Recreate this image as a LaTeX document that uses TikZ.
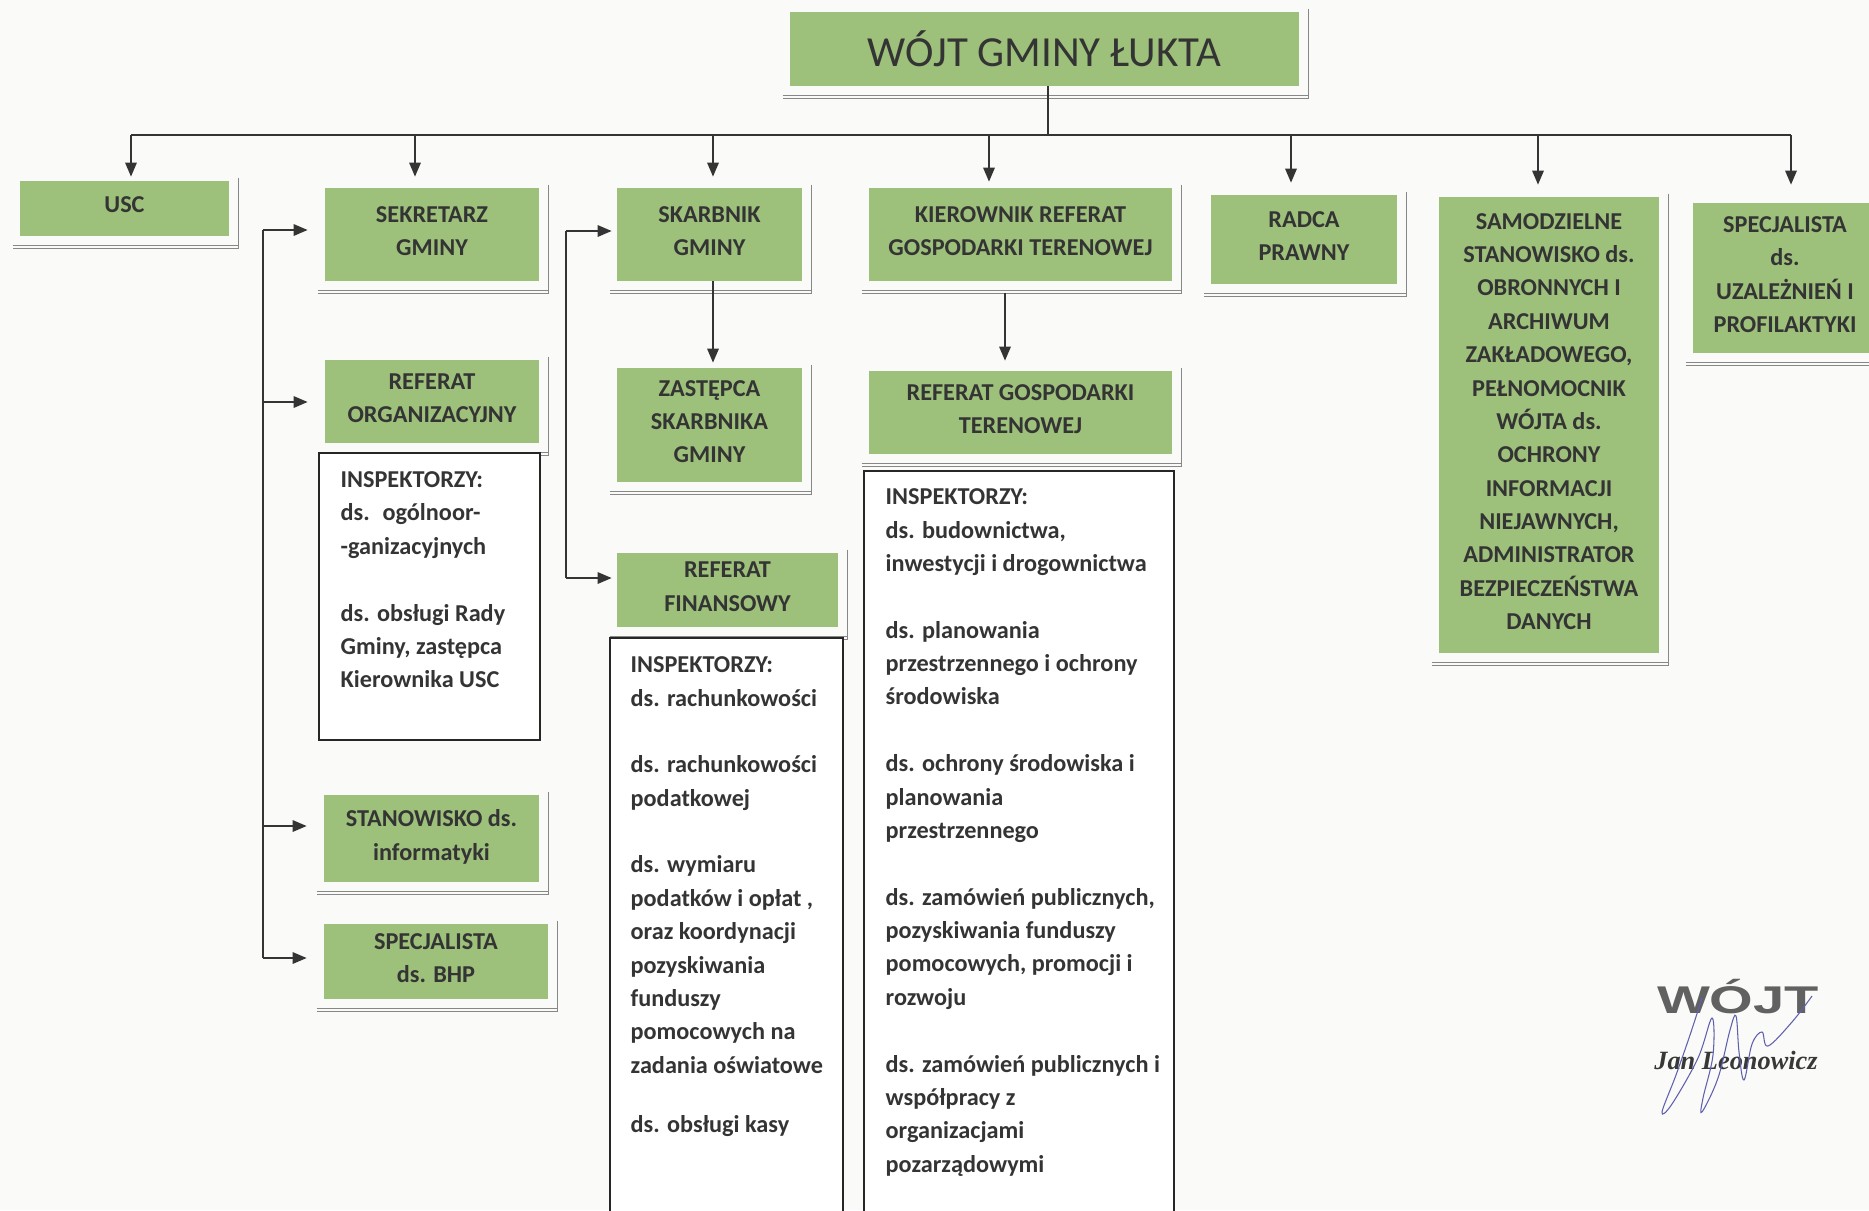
\documentclass[tikz,border=0pt]{standalone}
\usepackage{fontspec}
\setmainfont{Carlito}
\newfontfamily\stampsans{Liberation Sans}
\newfontfamily\stampserif{Liberation Serif}
\usetikzlibrary{positioning,arrows.meta}

\definecolor{boxgreen}{RGB}{157,192,122}
\definecolor{inkgray}{RGB}{52,52,52}
\definecolor{rimgray}{RGB}{135,135,135}
\definecolor{paper}{RGB}{250,250,248}
\definecolor{signblue}{RGB}{95,95,175}

\begin{document}
\begin{tikzpicture}[
  x=0.02cm, y=-0.02cm,
  box/.style={fill=boxgreen, draw=none, text=inkgray, align=center, inner sep=0pt,
              text depth=0.14cm, font=\fontsize{13.8}{19}\selectfont\bfseries},
  listbox/.style={draw=black!85, line width=0.8pt, fill=white, inner sep=0pt},
  listtext/.style={anchor=north west, align=left, inner sep=0pt, text=inkgray,
                   font=\fontsize{13.8}{19}\selectfont\bfseries},
  link/.style={draw=inkgray, line width=1.1pt},
  arr/.style={link, -{Triangle[length=8pt,width=6.5pt]}},
  rim/.style={draw=rimgray, line width=0.6pt},
]
\useasboundingbox (0,0) rectangle (1869,1210);
\fill[paper] (0,0) rectangle (1869,1210);

% top
\node[box, font=\fontsize{24.4}{26}\selectfont, text depth=0pt, minimum width=10.18cm, minimum height=1.48cm]
  (wojt) at (1044.5,49) {WÓJT GMINY ŁUKTA};

% first row
\node[box, minimum width=4.18cm, minimum height=1.10cm] (usc)    at (124.5,208.5) {USC};
\node[box, minimum width=4.28cm, minimum height=1.86cm] (sekr)   at (432,234.5)   {SEKRETARZ\\GMINY};
\node[box, minimum width=3.70cm, minimum height=1.86cm] (skarb)  at (709.5,234.5) {SKARBNIK\\GMINY};
\node[box, minimum width=6.06cm, minimum height=1.86cm] (kier)   at (1020.5,234.5) {KIEROWNIK REFERAT\\GOSPODARKI TERENOWEJ};
\node[box, minimum width=3.72cm, minimum height=1.78cm] (radca)  at (1304,239.5)  {RADCA\\PRAWNY};
\node[box, minimum width=4.40cm, minimum height=9.12cm] (samodz) at (1549,425)    {SAMODZIELNE\\STANOWISKO ds.\\OBRONNYCH I\\ARCHIWUM\\ZAKŁADOWEGO,\\PEŁNOMOCNIK\\WÓJTA ds.\\OCHRONY\\INFORMACJI\\NIEJAWNYCH,\\ADMINISTRATOR\\BEZPIECZEŃSTWA\\DANYCH};
\node[box, minimum width=3.68cm, minimum height=3.00cm] (uzal)   at (1785,278)    {SPECJALISTA\\ds.\\UZALEŻNIEŃ I\\PROFILAKTYKI};

% sekretarz column
\node[box, minimum width=4.28cm, minimum height=1.66cm] (reforg) at (432,401.5)   {REFERAT\\ORGANIZACYJNY};
\node[box, minimum width=4.30cm, minimum height=1.74cm] (info)   at (431.5,838.5) {STANOWISKO ds.\\informatyki};
\node[box, minimum width=4.48cm, minimum height=1.50cm] (bhp)    at (436,961.5)   {SPECJALISTA\\ds. BHP};

% skarbnik column
\node[box, minimum width=3.70cm, minimum height=2.28cm] (zast)   at (709.5,425)   {ZASTĘPCA\\SKARBNIKA\\GMINY};
\node[box, minimum width=4.42cm, minimum height=1.48cm] (reffin) at (727.5,590)   {REFERAT\\FINANSOWY};

% gospodarka column
\node[box, minimum width=6.06cm, minimum height=1.66cm] (refgt)  at (1020.5,412.5) {REFERAT GOSPODARKI\\TERENOWEJ};

% shadow rims
\foreach \n in {wojt,usc,sekr,skarb,kier,radca,samodz,uzal,reforg,info,bhp,zast,reffin,refgt}{
  \draw[rim] ([xshift=0.18cm,yshift=0.06cm]\n.north east) -- ([xshift=0.18cm,yshift=-0.24cm]\n.south east)
             -- ([xshift=-0.14cm,yshift=-0.24cm]\n.south west);
  \draw[rim] ([xshift=-0.14cm,yshift=-0.18cm]\n.south west) -- ([xshift=0.18cm,yshift=-0.18cm]\n.south east);
}

% inspector lists
\node[listbox, minimum width=4.42cm, minimum height=5.74cm]  (orgI) at (429.5,596.5) {};
\node[listbox, minimum width=4.66cm, minimum height=12.04cm] (finI) at (726.5,939)   {};
\node[listbox, minimum width=6.20cm, minimum height=15.38cm] (gtI)  at (1019,855.5)  {};

\node[listtext] (orgT) at ([xshift=0.44cm,yshift=-0.38cm]orgI.north west)
  {INSPEKTORZY:\\ds.~ ogólnoor-\\-ganizacyjnych\\[19pt]ds. obsługi Rady\\Gminy, zastępca\\Kierownika USC};
\node[listtext] (finT) at ([xshift=0.42cm,yshift=-0.38cm]finI.north west)
  {INSPEKTORZY:\\ds. rachunkowości\\[19pt]ds. rachunkowości\\podatkowej\\[19pt]ds. wymiaru\\podatków i opłat ,\\oraz koordynacji\\pozyskiwania\\funduszy\\pomocowych na\\zadania oświatowe\\[15pt]ds. obsługi kasy};
\node[listtext] (gtT) at ([xshift=0.44cm,yshift=-0.36cm]gtI.north west)
  {INSPEKTORZY:\\ds. budownictwa,\\inwestycji i drogownictwa\\[19pt]ds. planowania\\przestrzennego i ochrony\\środowiska\\[19pt]ds. ochrony środowiska i\\planowania\\przestrzennego\\[19pt]ds. zamówień publicznych,\\pozyskiwania funduszy\\pomocowych, promocji i\\rozwoju\\[19pt]ds. zamówień publicznych i\\współpracy z\\organizacjami\\pozarządowymi};

% connectors from the top
\coordinate (trunk)  at (1048,135);
\coordinate (tUsc)   at (131,135);
\coordinate (tSekr)  at (415,135);
\coordinate (tSkarb) at (713,135);
\coordinate (tKier)  at (989,135);
\coordinate (tRadca) at (1291,135);
\coordinate (tSam)   at (1538,135);
\coordinate (tUzal)  at (1791,135);
\draw[link] (wojt.south -| trunk) -- (trunk);
\draw[link] (tUsc) -- (tUzal);
\draw[arr, shorten >=0.08cm] (tUsc)   -- (tUsc |- usc.north);
\draw[arr, shorten >=0.22cm] (tSekr)  -- (tSekr |- sekr.north);
\draw[arr, shorten >=0.22cm] (tSkarb) -- (tSkarb |- skarb.north);
\draw[arr, shorten >=0.12cm] (tKier)  -- (tKier |- kier.north);
\draw[arr, shorten >=0.24cm] (tRadca) -- (tRadca |- radca.north);
\draw[arr, shorten >=0.24cm] (tSam)   -- (tSam |- samodz.north);
\draw[arr, shorten >=0.36cm] (tUzal)  -- (tUzal |- uzal.north);

% sekretarz bracket
\coordinate (jS1) at (263,230);
\coordinate (jS2) at (263,402);
\coordinate (jS3) at (263,826);
\coordinate (jS4) at (263,958);
\draw[link] (jS1) -- (jS4);
\draw[arr, shorten >=0.34cm] (jS1) -- (jS1 -| sekr.west);
\draw[arr, shorten >=0.34cm] (jS2) -- (jS2 -| reforg.west);
\draw[arr, shorten >=0.34cm] (jS3) -- (jS3 -| info.west);
\draw[arr, shorten >=0.34cm] (jS4) -- (jS4 -| bhp.west);

% skarbnik bracket
\coordinate (jF1) at (566,231);
\coordinate (jF2) at (566,578);
\draw[link] (jF1) -- (jF2);
\draw[arr, shorten >=0.10cm] (jF1) -- (jF1 -| skarb.west);
\draw[arr, shorten >=0.10cm] (jF2) -- (jF2 -| reffin.west);
\draw[arr, shorten >=0.10cm] (skarb.south -| tSkarb) -- (zast.north -| tSkarb);

% kierownik down
\coordinate (tGosp) at (1005,293);
\draw[arr, shorten >=0.20cm] (tGosp) -- (tGosp |- refgt.north);

% signature
\node[font=\stampsans\bfseries\fontsize{22}{22}\selectfont, text=black!62, xscale=1.45, inner sep=0pt]
  (stampW) at (1738,997) {WÓJT};
\node[font=\stampserif\bfseries\itshape\fontsize{15}{15}\selectfont, text=black!78, inner sep=0pt]
  (stampN) at (1736,1060) {Jan Leonowicz};
\draw[signblue, line width=0.6pt] plot[smooth, tension=0.6] coordinates
  {(1702,998) (1690,1035) (1676,1075) (1662,1112) (1672,1104) (1698,1058) (1712,1018)
   (1713,1055) (1703,1098) (1702,1112) (1718,1078) (1730,1030) (1736,1016) (1739,1052)
   (1744,1080) (1752,1044) (1762,1032) (1768,1046) (1792,1022) (1812,996)};
\end{tikzpicture}
\end{document}
